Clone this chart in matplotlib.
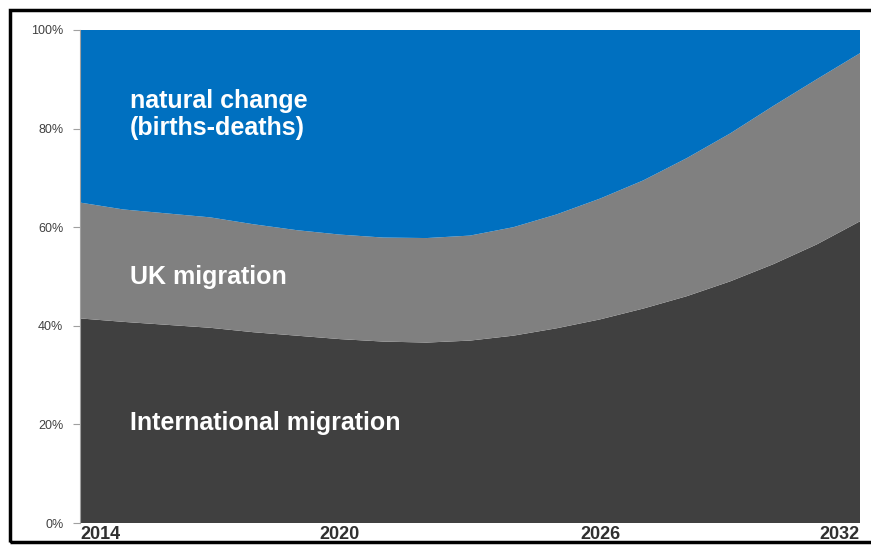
import matplotlib.pyplot as plt
from matplotlib.patches import Rectangle

# years and shares of population change (%)
years = list(range(2014, 2033))
international = [41.5, 40.8, 40.2, 39.6, 38.7, 38.0, 37.3, 36.8, 36.6, 37.0,
                 38.0, 39.5, 41.3, 43.5, 46.0, 49.0, 52.5, 56.5, 61.2]
uk = [23.5, 22.8, 22.6, 22.4, 21.9, 21.4, 21.2, 21.1, 21.2, 21.3,
      22.0, 23.1, 24.5, 26.0, 28.0, 30.0, 32.1, 33.5, 34.1]
natural = [100 - a - b for a, b in zip(international, uk)]

xtick_years = [2014, 2020, 2026, 2032]
ytick_vals = [0, 20, 40, 60, 80, 100]
ytick_labels = ['0%', '20%', '40%', '60%', '80%', '100%']

colors = ['#404040', '#808080', '#0070C0']

plt.rcParams['font.family'] = ['Liberation Sans', 'DejaVu Sans']

fig = plt.figure(figsize=(8.71, 5.45), dpi=100)
ax = fig.add_axes([80 / 871, 1 - 523 / 545, 780 / 871, 493 / 545])

ax.stackplot(years, international, uk, natural, colors=colors, linewidth=0)
ax.set_xlim(2014, 2032)
ax.set_ylim(0, 100)

for s in ['top', 'right', 'bottom']:
    ax.spines[s].set_visible(False)
ax.spines['left'].set_color('#a0a0a0')
ax.spines['left'].set_linewidth(0.8)

ax.set_yticks(ytick_vals)
ax.set_yticklabels(ytick_labels, fontsize=9, color='#404040')
ax.tick_params(axis='y', length=5, color='#a0a0a0', pad=7)

ax.set_xticks(xtick_years)
ax.set_xticklabels([str(y) for y in xtick_years], fontsize=13, fontweight='bold',
                   color='#303030')
ax.tick_params(axis='x', length=0, pad=2)
xl = ax.get_xticklabels()
xl[0].set_ha('left')
xl[-1].set_ha('right')

# labels inside the areas
lbl = dict(color='white', fontsize=18, fontweight='bold', va='center', ha='left')
ax.text(2015.15, 82.8, 'natural change\n(births-deaths)', linespacing=1.15, **lbl)
ax.text(2015.15, 49.8, 'UK migration', **lbl)
ax.text(2015.15, 20.3, 'International migration', **lbl)

# black frame round the chart
fig.patches.append(Rectangle((10 / 871, 3 / 545), 870 / 871, 532 / 545,
                             transform=fig.transFigure, fill=False,
                             edgecolor='black', linewidth=2.5, zorder=0))

fig.savefig('out.png', dpi=100)
